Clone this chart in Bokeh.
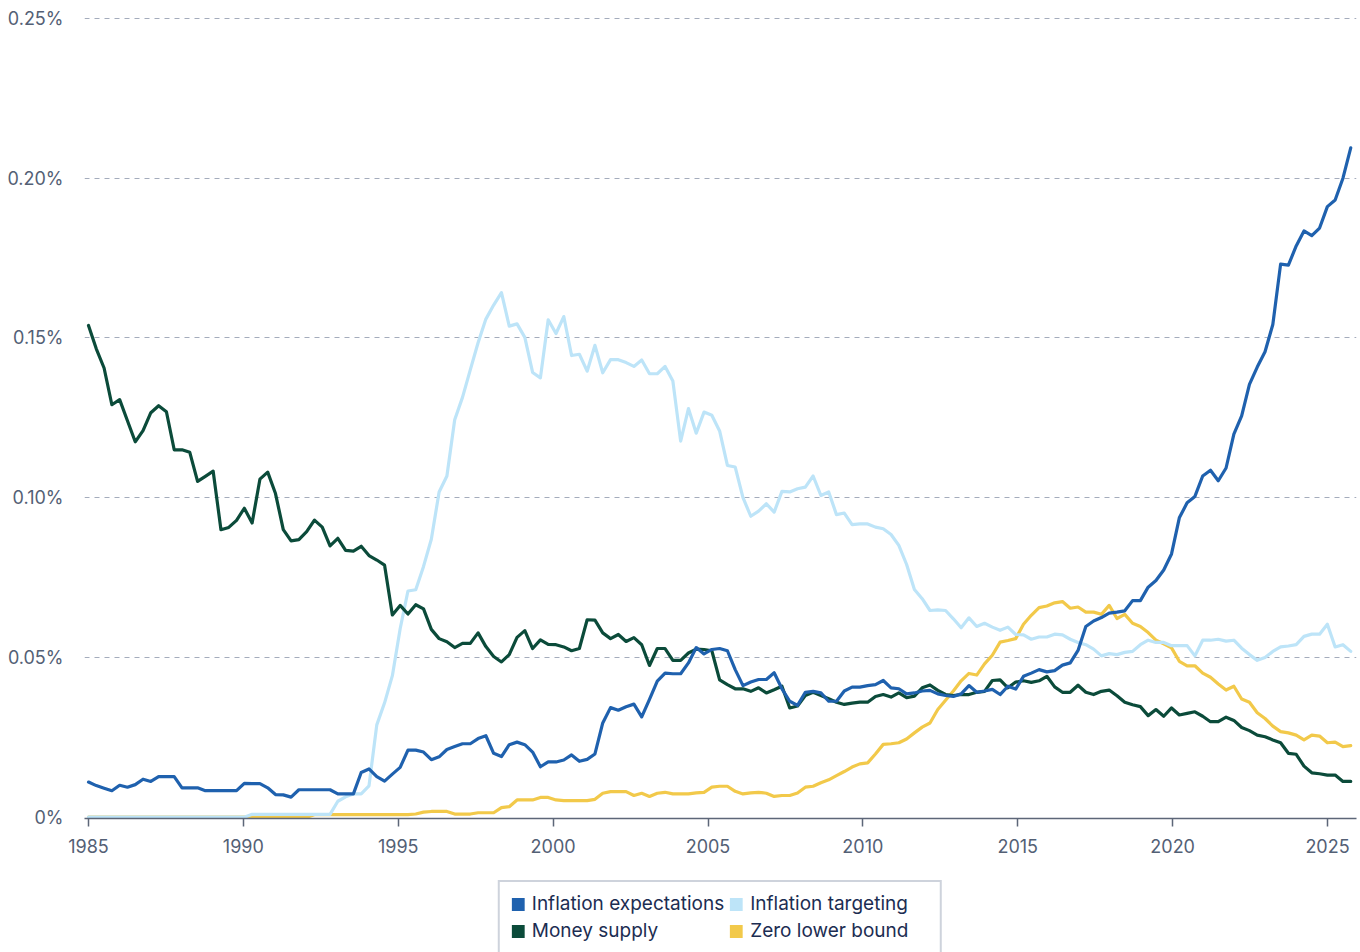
import numpy as np
from bokeh.plotting import figure
from bokeh.layouts import column
from bokeh.models import (FixedTicker, CustomJSTickFormatter, Legend, LegendItem, Range1d)
from bokeh.embed import file_html
from bokeh.resources import INLINE

# ---------------- data (values in percent, quarterly) ----------------
first_quarter = 1985.0
last_quarter = 2025.75

inflation_expectations = [
    0.0110, 0.0099, 0.0091, 0.0083, 0.0100, 0.0094, 0.0102, 0.0119, 0.0112, 0.0127,
    0.0127, 0.0127, 0.0092, 0.0092, 0.0092, 0.0083, 0.0083, 0.0083, 0.0083, 0.0083,
    0.0106, 0.0105, 0.0105, 0.0092, 0.0071, 0.0070, 0.0063, 0.0086, 0.0086, 0.0086,
    0.0086, 0.0086, 0.0073, 0.0073, 0.0073, 0.0140, 0.0151, 0.0127, 0.0113, 0.0135,
    0.0156, 0.0210, 0.0210,
    0.0204, 0.0180, 0.0189, 0.0212, 0.0221, 0.0230, 0.0230, 0.0246, 0.0255, 0.0200,
    0.0190, 0.0227, 0.0235, 0.0227, 0.0204, 0.0158, 0.0173, 0.0173, 0.0179, 0.0195,
    0.0175, 0.0181, 0.0198, 0.0295, 0.0343, 0.0335, 0.0346, 0.0354, 0.0314, 0.0369,
    0.0426, 0.0451, 0.0449, 0.0449, 0.0483, 0.0531, 0.0511, 0.0525, 0.0528, 0.0521,
    0.0462, 0.0412, 0.0423, 0.0431, 0.0431, 0.0452, 0.0402, 0.0363, 0.0350, 0.0391,
    0.0394, 0.0389, 0.0363, 0.0363, 0.0395, 0.0407, 0.0407, 0.0412, 0.0415, 0.0428,
    0.0405, 0.0402, 0.0386, 0.0389, 0.0395, 0.0397, 0.0386, 0.0381, 0.0378, 0.0386,
    0.0412, 0.0391, 0.0395, 0.0400, 0.0384, 0.0410,
    0.0401, 0.0441, 0.0451, 0.0462, 0.0455, 0.0459, 0.0476, 0.0483, 0.0522, 0.0597,
    0.0614, 0.0625, 0.0639, 0.0642, 0.0646, 0.0678, 0.0678, 0.0720, 0.0741, 0.0774,
    0.0824, 0.0937, 0.0984, 0.1004, 0.1068, 0.1086, 0.1053, 0.1093, 0.1199, 0.1256,
    0.1355, 0.1409, 0.1457, 0.1542, 0.1731, 0.1728, 0.1788, 0.1835, 0.1820, 0.1844,
    0.1911, 0.1932, 0.2000, 0.2095,
]

inflation_targeting = [
    0.0, 0.0, 0.0, 0.0, 0.0, 0.0, 0.0, 0.0, 0.0, 0.0,
    0.0, 0.0, 0.0, 0.0, 0.0, 0.0, 0.0, 0.0, 0.0, 0.0, 0.0,
    0.0009, 0.0009, 0.0009, 0.0009, 0.0009, 0.0009, 0.0009, 0.0009, 0.0009, 0.0009, 0.0009,
    0.0050, 0.0064, 0.0073, 0.0073, 0.0098, 0.0289, 0.0358, 0.0443, 0.0590, 0.0708,
    0.0712, 0.0785, 0.0870, 0.1018, 0.1068, 0.1244, 0.1314, 0.1400, 0.1485, 0.1559,
    0.1603, 0.1642, 0.1537, 0.1544, 0.1502, 0.1392, 0.1375, 0.1557, 0.1514, 0.1567,
    0.1445, 0.1449, 0.1396, 0.1477, 0.1391, 0.1432, 0.1432, 0.1423, 0.1411, 0.1431,
    0.1388, 0.1388, 0.1411, 0.1365,
    0.1177, 0.1279, 0.1202, 0.1268, 0.1258, 0.1209, 0.1101, 0.1096, 0.1000, 0.0942,
    0.0958, 0.0981, 0.0955, 0.1020, 0.1018, 0.1028, 0.1033, 0.1068, 0.1007, 0.1018,
    0.0947, 0.0952, 0.0916, 0.0918, 0.0918, 0.0908, 0.0903, 0.0885, 0.0851, 0.0791,
    0.0713, 0.0684, 0.0647, 0.0649, 0.0647, 0.0621, 0.0593, 0.0624, 0.0597, 0.0607,
    0.0595, 0.0585, 0.0595, 0.0572,
    0.0571, 0.0557, 0.0564, 0.0564, 0.0573, 0.0571, 0.0557, 0.0547, 0.0540, 0.0526,
    0.0505, 0.0512, 0.0509, 0.0516, 0.0519, 0.0540, 0.0554, 0.0547, 0.0547, 0.0537,
    0.0537, 0.0537, 0.0505, 0.0554, 0.0554, 0.0557, 0.0551, 0.0554, 0.0529, 0.0509,
    0.0491, 0.0500, 0.0519, 0.0533, 0.0536, 0.0540, 0.0566, 0.0573, 0.0573, 0.0604,
    0.0533, 0.0540, 0.0519,
]

money_supply = [
    0.1539, 0.1466, 0.1406, 0.1291, 0.1307, 0.1241, 0.1175, 0.1210, 0.1266, 0.1288,
    0.1269, 0.1150, 0.1150, 0.1142, 0.1051, 0.1067, 0.1083, 0.0900, 0.0907, 0.0929,
    0.0967, 0.0921, 0.1058, 0.1080, 0.1013, 0.0900, 0.0865, 0.0869, 0.0894, 0.0930,
    0.0908, 0.0849, 0.0873, 0.0835, 0.0833, 0.0848, 0.0819, 0.0805, 0.0789, 0.0633,
    0.0663, 0.0636, 0.0665,
    0.0652, 0.0588, 0.0559, 0.0549, 0.0531, 0.0544, 0.0544, 0.0577, 0.0534, 0.0503,
    0.0486, 0.0509, 0.0563, 0.0584, 0.0528, 0.0555, 0.0541, 0.0540, 0.0533, 0.0521,
    0.0528, 0.0618, 0.0617, 0.0577, 0.0559, 0.0572, 0.0550, 0.0562, 0.0540, 0.0475,
    0.0528, 0.0528, 0.0491, 0.0491, 0.0514, 0.0526, 0.0525, 0.0521,
    0.0430, 0.0415, 0.0402, 0.0402, 0.0394, 0.0405, 0.0389, 0.0399, 0.0410, 0.0342,
    0.0348, 0.0381, 0.0391, 0.0381, 0.0371, 0.0360, 0.0353, 0.0357, 0.0360, 0.0360,
    0.0378, 0.0384, 0.0376, 0.0389, 0.0374, 0.0379, 0.0405, 0.0414, 0.0397, 0.0384,
    0.0381, 0.0384, 0.0384, 0.0391, 0.0394, 0.0428, 0.0430, 0.0405, 0.0423,
    0.0427, 0.0422, 0.0427, 0.0441, 0.0408, 0.0391, 0.0391, 0.0413, 0.0391, 0.0384,
    0.0394, 0.0398, 0.0380, 0.0360, 0.0352, 0.0346, 0.0318, 0.0337, 0.0316, 0.0342,
    0.0320, 0.0325, 0.0330, 0.0316, 0.0299, 0.0299, 0.0313, 0.0303, 0.0281, 0.0271,
    0.0257, 0.0252, 0.0242, 0.0233, 0.0200, 0.0197, 0.0160, 0.0139, 0.0136, 0.0132,
    0.0132, 0.0112, 0.0112,
]

zero_lower_bound = [
    0.0, 0.0, 0.0, 0.0, 0.0, 0.0, 0.0, 0.0, 0.0, 0.0,
    0.0, 0.0, 0.0, 0.0, 0.0, 0.0, 0.0, 0.0, 0.0, 0.0,
    0.0, 0.0, 0.0, 0.0, 0.0, 0.0, 0.0, 0.0, 0.0,
    0.0008, 0.0008, 0.0008, 0.0008, 0.0008, 0.0008, 0.0008, 0.0008, 0.0008, 0.0008,
    0.0008, 0.0008, 0.0008,
    0.0010, 0.0016, 0.0018, 0.0018, 0.0018, 0.0010, 0.0010, 0.0010, 0.0014, 0.0014,
    0.0014, 0.0030, 0.0033, 0.0054, 0.0054, 0.0054, 0.0062, 0.0062, 0.0054, 0.0052,
    0.0052, 0.0052, 0.0052, 0.0056, 0.0075, 0.0080, 0.0080, 0.0080, 0.0068, 0.0075,
    0.0065, 0.0075, 0.0078, 0.0073, 0.0073, 0.0073, 0.0076, 0.0078, 0.0094, 0.0097,
    0.0097, 0.0081, 0.0073,
    0.0076, 0.0078, 0.0075, 0.0065, 0.0068, 0.0068, 0.0076, 0.0094, 0.0097, 0.0108,
    0.0117, 0.0130, 0.0143, 0.0157, 0.0167, 0.0170, 0.0198, 0.0228, 0.0230, 0.0233,
    0.0245, 0.0264, 0.0282, 0.0295, 0.0337, 0.0366, 0.0395, 0.0427, 0.0450, 0.0445,
    0.0480, 0.0507, 0.0548, 0.0553, 0.0559, 0.0604,
    0.0632, 0.0656, 0.0661, 0.0671, 0.0675, 0.0654, 0.0658, 0.0642, 0.0642, 0.0635,
    0.0663, 0.0622, 0.0635, 0.0607, 0.0597, 0.0578, 0.0554, 0.0543, 0.0530, 0.0488,
    0.0474, 0.0474, 0.0451, 0.0438, 0.0417, 0.0398, 0.0410, 0.0370, 0.0360, 0.0327,
    0.0309, 0.0285, 0.0268, 0.0264, 0.0257, 0.0242, 0.0257, 0.0254, 0.0233, 0.0235,
    0.0221, 0.0224,
]

series_labels = ["Inflation expectations", "Inflation targeting", "Money supply", "Zero lower bound"]
series_colors = ["#1f61ae", "#bde4f8", "#0b4b3a", "#f2c94a"]
series_values = [inflation_expectations, inflation_targeting, money_supply, zero_lower_bound]
draw_order = [3, 1, 2, 0]

year_ticks = [1985, 1990, 1995, 2000, 2005, 2010, 2015, 2020, 2025]
share_ticks = [0.0, 0.05, 0.10, 0.15, 0.20, 0.25]

n_points = max(len(s) for s in series_values)
quarters = np.linspace(first_quarter, last_quarter, n_points)

# ---------------- main chart ----------------
LABEL_COLOR = "#536075"
AXIS_COLOR = "#5d6678"
FIG_W = 1360
TOTAL_H = 952
LEFT = 84
RIGHT = 4
TOP = 17
FRAME_H = 801
MAIN_H = 870

p = figure(width=FIG_W, height=MAIN_H,
           x_range=Range1d(1984.871, 2025.936), y_range=Range1d(-0.0004, 0.2503),
           output_backend="svg", toolbar_location=None,
           min_border_left=LEFT, min_border_right=RIGHT, min_border_top=TOP,
           min_border_bottom=MAIN_H - TOP - FRAME_H,
           background_fill_color="white", border_fill_color="white")
p.outline_line_color = None
p.xgrid.visible = False

p.ygrid.ticker = FixedTicker(ticks=share_ticks[1:])
p.ygrid.grid_line_color = "#a4acbc"
p.ygrid.grid_line_width = 1
p.ygrid.grid_line_dash = "5 5"

p.yaxis.ticker = FixedTicker(ticks=share_ticks)
p.yaxis.formatter = CustomJSTickFormatter(code="return tick == 0 ? '0%' : tick.toFixed(2) + '%';")
p.yaxis.axis_line_color = None
p.yaxis.major_tick_line_color = None
p.yaxis.minor_tick_line_color = None
p.yaxis.major_tick_out = 0
p.yaxis.major_tick_in = 0
p.yaxis.major_label_standoff = 21
p.yaxis.major_label_text_font = "Inter"
p.yaxis.major_label_text_font_size = "18px"
p.yaxis.major_label_text_color = LABEL_COLOR

p.xaxis.ticker = FixedTicker(ticks=year_ticks)
p.xaxis.formatter = CustomJSTickFormatter(code="return String(Math.round(tick));")
p.xaxis.axis_line_color = AXIS_COLOR
p.xaxis.axis_line_width = 1.5
p.xaxis.major_tick_line_color = AXIS_COLOR
p.xaxis.major_tick_line_width = 1.5
p.xaxis.major_tick_out = 8
p.xaxis.major_tick_in = 0
p.xaxis.minor_tick_line_color = None
p.xaxis.major_label_standoff = 12
p.xaxis.major_label_text_font = "Inter"
p.xaxis.major_label_text_font_size = "18px"
p.xaxis.major_label_text_color = LABEL_COLOR

for k in draw_order:
    vals = series_values[k]
    p.line(quarters[:len(vals)], vals, line_color=series_colors[k], line_width=3.2,
           line_join="round", line_cap="round")

# ---------------- legend strip ----------------
lp = figure(width=FIG_W, height=TOTAL_H - MAIN_H, output_backend="svg", toolbar_location=None,
            x_range=Range1d(0, 1), y_range=Range1d(0, 1),
            min_border_left=LEFT, min_border_right=RIGHT, min_border_top=10, min_border_bottom=0,
            background_fill_color="white", border_fill_color="white")
lp.outline_line_color = None
lp.axis.visible = False
lp.grid.visible = False

# square legend keys: one off-canvas block per series, used only as the legend swatch
items = []
for label, color in zip(series_labels, series_colors):
    key = lp.quad(left=[-3], right=[-2], top=[-2], bottom=[-3], fill_color=color, line_color=None)
    items.append(LegendItem(label=label, renderers=[key]))

legend = Legend(items=items, orientation="horizontal", ncols=2, location="top_center",
                glyph_width=16, glyph_height=16, label_standoff=6, spacing=4,
                label_width=180, padding=10, margin=0,
                label_text_font="Inter", label_text_font_size="19px",
                label_text_color="#1c2d52",
                border_line_color="#9ea8ba", border_line_width=2,
                background_fill_color="white", background_fill_alpha=1.0)
lp.add_layout(legend)

layout = column(p, lp, spacing=0)
open("out.html", "w").write(file_html(layout, INLINE))
